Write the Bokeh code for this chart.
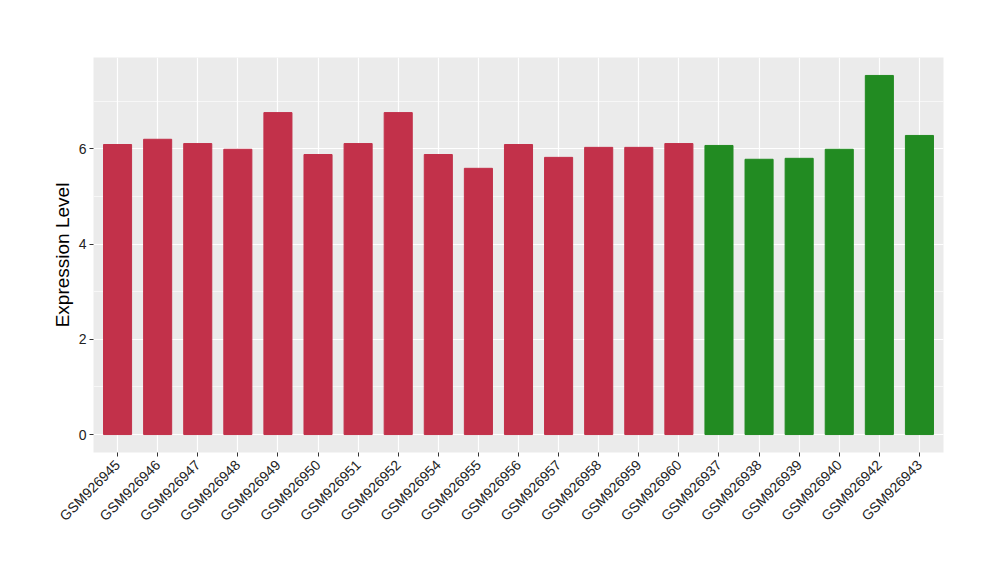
import math
from bokeh.plotting import figure
from bokeh.models import ColumnDataSource, FactorRange, Range1d, SingleIntervalTicker
from bokeh.embed import file_html
from bokeh.resources import INLINE

samples = ["GSM926945", "GSM926946", "GSM926947", "GSM926948", "GSM926949",
           "GSM926950", "GSM926951", "GSM926952", "GSM926954", "GSM926955",
           "GSM926956", "GSM926957", "GSM926958", "GSM926959", "GSM926960",
           "GSM926937", "GSM926938", "GSM926939", "GSM926940", "GSM926942",
           "GSM926943"]
expression = [6.09, 6.20, 6.11, 5.99, 6.76, 5.88, 6.11, 6.76, 5.88, 5.59,
              6.09, 5.82, 6.03, 6.03, 6.11, 6.07, 5.78, 5.80, 5.99, 7.54, 6.28]
groups = ["A"] * 15 + ["B"] * 6
group_colors = {"A": "#C2314A", "B": "#228B22"}

colors = [group_colors[g] for g in groups]
src = ColumnDataSource(dict(x=samples, y=expression, color=colors))

ymax = max(expression)
pad = 0.05 * ymax

p = figure(width=984, height=564, output_backend="svg", toolbar_location=None,
           x_range=FactorRange(factors=samples, range_padding=0.1,
                               range_padding_units="absolute"),
           y_range=Range1d(-pad, ymax + pad),
           min_border_left=93, min_border_right=41,
           min_border_top=57, min_border_bottom=112)

p.vbar(x="x", top="y", width=0.7, bottom=0, color="color", source=src)

p.background_fill_color = "#EBEBEB"
p.border_fill_color = "white"
p.outline_line_color = None

p.yaxis.ticker = SingleIntervalTicker(interval=2, num_minor_ticks=2)
p.xgrid.grid_line_color = "white"
p.xgrid.grid_line_width = 1.2
p.ygrid.grid_line_color = "white"
p.ygrid.grid_line_width = 1.2
p.ygrid.minor_grid_line_color = "white"
p.ygrid.minor_grid_line_width = 0.6

for ax in (p.xaxis, p.yaxis):
    ax.axis_line_color = None
    ax.major_tick_line_color = "#333333"
    ax.major_tick_in = 0
    ax.major_tick_out = 4
    ax.minor_tick_line_color = None
    ax.major_label_text_font = "Liberation Sans"
    ax.major_label_text_font_size = "14px"
    ax.major_label_text_color = "#222222"
    ax.major_label_standoff = 3

p.xaxis.major_label_orientation = math.pi / 4
p.xaxis.major_label_standoff = 6
p.yaxis.axis_label = "Expression Level"
p.yaxis.axis_label_text_font = "Liberation Sans"
p.yaxis.axis_label_text_font_size = "19px"
p.yaxis.axis_label_text_font_style = "normal"
p.yaxis.axis_label_text_color = "black"
p.yaxis.axis_label_standoff = 3

open("out.html", "w").write(file_html(p, INLINE))
